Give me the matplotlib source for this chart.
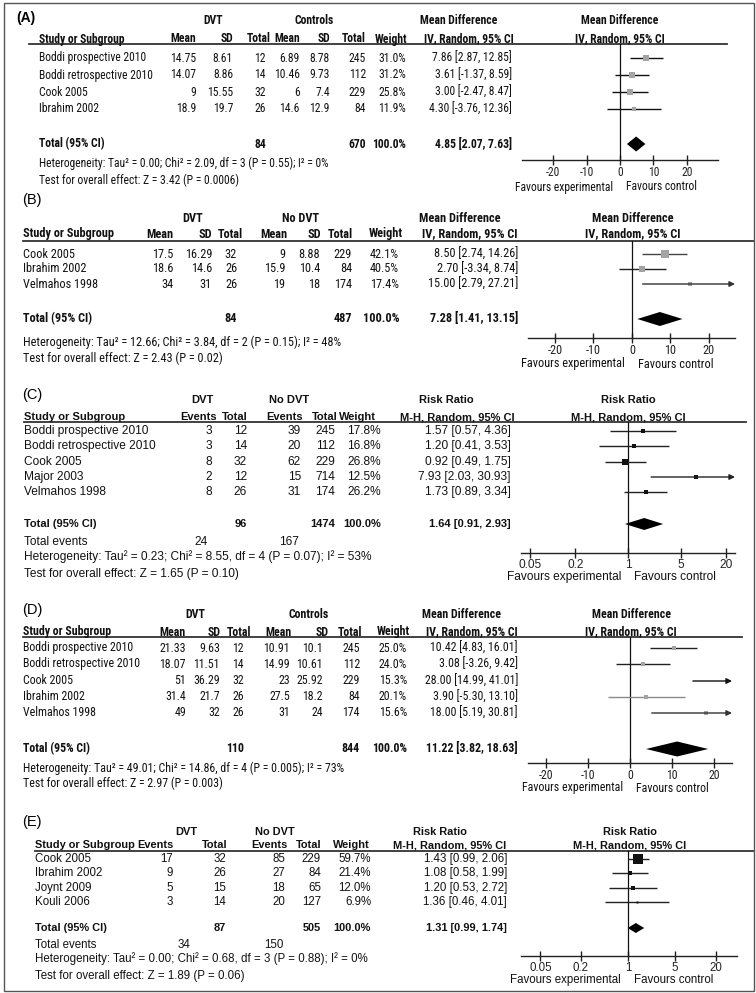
import numpy as np
import matplotlib.pyplot as plt
from matplotlib.patches import Rectangle
from matplotlib.ticker import NullLocator
from matplotlib.transforms import blended_transform_factory, offset_copy

# (A) DVT vs controls, mean difference
a_study = ['Boddi prospective 2010', 'Boddi retrospective 2010', 'Cook 2005', 'Ibrahim 2002']
a_dvt_mean = [14.75, 14.07, 9, 18.9]
a_dvt_sd = [8.61, 8.86, 15.55, 19.7]
a_dvt_n = [12, 14, 32, 26]
a_ctl_mean = [6.89, 10.46, 6, 14.6]
a_ctl_sd = [8.78, 9.73, 7.4, 12.9]
a_ctl_n = [245, 112, 229, 84]
a_weight = [31.0, 31.2, 25.8, 11.9]
a_est = [7.86, 3.61, 3.00, 4.30]
a_lo = [2.87, -1.37, -2.47, -3.76]
a_hi = [12.85, 8.59, 8.47, 12.36]
a_total_n = [84, 670]
a_total = [4.85, 2.07, 7.63]
a_het = 'Heterogeneity: Tau² = 0.00; Chi² = 2.09, df = 3 (P = 0.55); I² = 0%'
a_test = 'Test for overall effect: Z = 3.42 (P = 0.0006)'

# (B) DVT vs no DVT, mean difference
b_study = ['Cook 2005', 'Ibrahim 2002', 'Velmahos 1998']
b_dvt_mean = [17.5, 18.6, 34]
b_dvt_sd = [16.29, 14.6, 31]
b_dvt_n = [32, 26, 26]
b_ctl_mean = [9, 15.9, 19]
b_ctl_sd = [8.88, 10.4, 18]
b_ctl_n = [229, 84, 174]
b_weight = [42.1, 40.5, 17.4]
b_est = [8.50, 2.70, 15.00]
b_lo = [2.74, -3.34, 2.79]
b_hi = [14.26, 8.74, 27.21]
b_total_n = [84, 487]
b_total = [7.28, 1.41, 13.15]
b_het = 'Heterogeneity: Tau² = 12.66; Chi² = 3.84, df = 2 (P = 0.15); I² = 48%'
b_test = 'Test for overall effect: Z = 2.43 (P = 0.02)'

# (C) DVT vs no DVT, risk ratio
c_study = ['Boddi prospective 2010', 'Boddi retrospective 2010', 'Cook 2005', 'Major 2003', 'Velmahos 1998']
c_dvt_ev = [3, 3, 8, 2, 8]
c_dvt_n = [12, 14, 32, 12, 26]
c_ctl_ev = [39, 20, 62, 15, 31]
c_ctl_n = [245, 112, 229, 714, 174]
c_weight = [17.8, 16.8, 26.8, 12.5, 26.2]
c_est = [1.57, 1.20, 0.92, 7.93, 1.73]
c_lo = [0.57, 0.41, 0.49, 2.03, 0.89]
c_hi = [4.36, 3.53, 1.75, 30.93, 3.34]
c_total_n = [96, 1474]
c_total_ev = [24, 167]
c_total = [1.64, 0.91, 2.93]
c_het = 'Heterogeneity: Tau² = 0.23; Chi² = 8.55, df = 4 (P = 0.07); I² = 53%'
c_test = 'Test for overall effect: Z = 1.65 (P = 0.10)'

# (D) DVT vs controls, mean difference
d_study = ['Boddi prospective 2010', 'Boddi retrospective 2010', 'Cook 2005', 'Ibrahim 2002', 'Velmahos 1998']
d_dvt_mean = [21.33, 18.07, 51, 31.4, 49]
d_dvt_sd = [9.63, 11.51, 36.29, 21.7, 32]
d_dvt_n = [12, 14, 32, 26, 26]
d_ctl_mean = [10.91, 14.99, 23, 27.5, 31]
d_ctl_sd = [10.1, 10.61, 25.92, 18.2, 24]
d_ctl_n = [245, 112, 229, 84, 174]
d_weight = [25.0, 24.0, 15.3, 20.1, 15.6]
d_est = [10.42, 3.08, 28.00, 3.90, 18.00]
d_lo = [4.83, -3.26, 14.99, -5.30, 5.19]
d_hi = [16.01, 9.42, 41.01, 13.10, 30.81]
d_total_n = [110, 844]
d_total = [11.22, 3.82, 18.63]
d_het = 'Heterogeneity: Tau² = 49.01; Chi² = 14.86, df = 4 (P = 0.005); I² = 73%'
d_test = 'Test for overall effect: Z = 2.97 (P = 0.003)'

# (E) DVT vs no DVT, risk ratio
e_study = ['Cook 2005', 'Ibrahim 2002', 'Joynt 2009', 'Kouli 2006']
e_dvt_ev = [17, 9, 5, 3]
e_dvt_n = [32, 26, 15, 14]
e_ctl_ev = [85, 27, 18, 20]
e_ctl_n = [229, 84, 65, 127]
e_weight = [59.7, 21.4, 12.0, 6.9]
e_est = [1.43, 1.08, 1.20, 1.36]
e_lo = [0.99, 0.58, 0.53, 0.46]
e_hi = [2.06, 1.99, 2.72, 4.01]
e_total_n = [87, 505]
e_total_ev = [34, 150]
e_total = [1.31, 0.99, 1.74]
e_het = 'Heterogeneity: Tau² = 0.00; Chi² = 0.68, df = 3 (P = 0.88); I² = 0%'
e_test = 'Test for overall effect: Z = 1.89 (P = 0.06)'

md_ticks = [-20, -10, 0, 10, 20]
rr_ticks = [0.05, 0.2, 1, 5, 20]

ARIAL = ['Liberation Sans', 'DejaVu Sans']
NARROW = ['Roboto Condensed', 'Liberation Sans', 'DejaVu Sans']
GREY = '#a3a3a3'

W, H = 756, 993
fig = plt.figure(figsize=(W / 100, H / 100), dpi=100)
base = fig.add_axes([0, 0, 1, 1])
base.set_xlim(0, W)
base.set_ylim(H, 0)
base.axis('off')
base.add_patch(Rectangle((4, 3), 750, 988, fill=False, lw=1, ec='#555555'))


def g(v):
    return '{:g}'.format(v)


def ci(e, l, h):
    return '{:.2f} [{:.2f}, {:.2f}]'.format(e, l, h)


def md_cols(m1, s1, n1, m2, s2, n2, w):
    return [[g(v) for v in m1], [g(v) for v in s1], [str(v) for v in n1],
            [g(v) for v in m2], [g(v) for v in s2], [str(v) for v in n2],
            ['%.1f%%' % v for v in w]]


def rr_cols(e1, n1, e2, n2, w):
    return [[str(v) for v in e1], [str(v) for v in n1], [str(v) for v in e2],
            [str(v) for v in n2], ['%.1f%%' % v for v in w]]


def draw_panel(p):
    fs, fam = p['fs'], p['font']
    kw = dict(family=fam, fontsize=fs, va='center', color='#111111')
    hkw = dict(kw, fontsize=p.get('hfs', fs), fontweight='bold')
    lx, ly = p['label_xy']
    base.text(lx, ly, p['label'], family=ARIAL, fontsize=p['label_fs'], va='center',
              fontweight='bold' if p['label_bold'] else 'normal')
    for txt, x in p['h1']:
        base.text(x, p['h1y'], txt, ha='center', **hkw)
    base.text(p['study_x'], p['h2y'], 'Study or Subgroup', ha='left', **hkw)
    for txt, x in zip(p['h2'], p['hx']):
        base.text(x, p['h2y'], txt, ha='right', **hkw)
    base.text(p['ci_hx'], p['h2y'], p['ci_head'], ha='center', **hkw)
    base.plot(p['rule_x'], [p['rule_y']] * 2, color='#333333', lw=1.3)

    est, lo, hi, wt = p['est'], p['lo'], p['hi'], p['weight']
    for i, y in enumerate(p['rows']):
        base.text(p['study_x'], y, p['study'][i], ha='left', **kw)
        for col, x in zip(p['cols'], p['vx']):
            base.text(x, y, col[i], ha='right', **kw)
        base.text(p['ci_vx'], y, ci(est[i], lo[i], hi[i]), ha='right', **kw)

    ty = p['tot_y']
    base.text(p['study_x'], ty, 'Total (95% CI)', ha='left', **hkw)
    for v, x in zip(p['total_n'], p['tot_x']):
        base.text(x, ty, str(v), ha='right', **hkw)
    base.text(p['vx'][-1], ty, '100.0%', ha='right', **hkw)
    base.text(p['ci_vx'], ty, ci(*p['total']), ha='right', **hkw)
    if 'total_ev' in p:
        base.text(p['study_x'], p['ev_y'], 'Total events', ha='left', **kw)
        for v, x in zip(p['total_ev'], p['ev_x']):
            base.text(x, p['ev_y'], str(v), ha='right', **kw)
    base.text(p['study_x'], p['het_y'], p['het'], ha='left', **kw)
    base.text(p['study_x'], p['test_y'], p['test'], ha='left', **kw)

    # forest plot
    x0, x1 = p['fx']
    ay, ry = p['axis_y'], p['rule_y']
    ax = fig.add_axes([x0 / W, 1 - ay / H, (x1 - x0) / W, (ay - ry) / H])
    ax.patch.set_alpha(0)
    if p['log']:
        ax.set_xscale('log')
    xlim = p['xlim']
    ax.set_xlim(xlim)
    ax.set_ylim(ay, ry)
    for s in ['top', 'left', 'right']:
        ax.spines[s].set_visible(False)
    ax.spines['bottom'].set_linewidth(1.0)
    ax.spines['bottom'].set_color('#222222')
    ax.set_yticks([])
    ax.set_xticks(p['ticks'])
    ax.set_xticklabels([g(t) for t in p['ticks']], fontfamily=fam, fontsize=fs)
    ax.xaxis.set_minor_locator(NullLocator())
    ax.tick_params(axis='x', direction='inout', length=7, width=1, pad=0.5, colors='#222222')
    zero = 1 if p['log'] else 0
    ax.axvline(zero, color='#111111', lw=0.9)

    k, pw = p['size']
    for i, y in enumerate(p['rows']):
        lc = p['line_colors'][i]
        start = max(lo[i], xlim[0])
        if hi[i] > xlim[1]:
            ax.annotate('', xy=(xlim[1], y), xytext=(start, y),
                        arrowprops=dict(arrowstyle='-|>', color=lc, lw=1, mutation_scale=8,
                                        shrinkA=0, shrinkB=0), annotation_clip=False)
        else:
            ax.plot([start, hi[i]], [y, y], color=lc, lw=1, solid_capstyle='butt')
        if xlim[0] < est[i] < xlim[1]:
            side = k * wt[i] ** pw
            ax.plot(est[i], y, marker='s', ms=side * 0.72, color=p['sq'], mew=0)
    te, tl, th = p['total']
    hh = p['dia_h'] / 2
    ax.fill([tl, te, th, te], [ty, ty - hh, ty, ty + hh], color='black', lw=0)

    cx = p['fh_x']
    base.text(cx, p['h1y'], p['h1'][-1][0], ha='center', **hkw)
    base.text(cx, p['h2y'], p['ci_head'], ha='center', **hkw)
    tr = blended_transform_factory(ax.transData, base.transData)
    ax.text(zero, p['fav_y'], 'Favours experimental', ha='right',
            transform=offset_copy(tr, fig=fig, x=-7, y=0, units='dots'), **kw)
    ax.text(zero, p['fav_y'], 'Favours control', ha='left',
            transform=offset_copy(tr, fig=fig, x=6, y=0, units='dots'), **kw)


md_h2 = ['Mean', 'SD', 'Total', 'Mean', 'SD', 'Total', 'Weight']
rr_h2 = ['Events', 'Total', 'Events', 'Total', 'Weight']

panels = [
    dict(label='(A)', label_bold=True, label_fs=10, label_xy=(16, 18), font=NARROW, fs=8.4,
         h1=[('DVT', 213), ('Controls', 314), ('Mean Difference', 459)], h1y=21, h2y=39,
         study_x=39, h2=md_h2, hx=[196, 233, 271, 300, 330, 366, 407],
         vx=[196, 233, 266, 300, 330, 366, 406], tot_x=[266, 366],
         ci_head='IV, Random, 95% CI', ci_hx=469, ci_vx=512,
         rule_x=[29, 727], rule_y=44, rows=[58, 75, 92, 109], tot_y=144, het_y=163, test_y=180,
         study=a_study, cols=md_cols(a_dvt_mean, a_dvt_sd, a_dvt_n, a_ctl_mean, a_ctl_sd, a_ctl_n, a_weight),
         weight=a_weight, est=a_est, lo=a_lo, hi=a_hi, total_n=a_total_n, total=a_total,
         het=a_het, test=a_test,
         fx=(522, 718), xlim=(-29.4, 29.4), log=False, ticks=md_ticks, axis_y=160, fav_y=187,
         fh_x=620, dia_h=15, size=(1.08, 0.5), sq=GREY, line_colors=['#111111'] * 4),
    dict(label='(B)', label_bold=False, label_fs=10.5, label_xy=(22, 200), font=NARROW, fs=8.85,
         h1=[('DVT', 193), ('No DVT', 301), ('Mean Difference', 460)], h1y=218, h2y=234,
         study_x=23, h2=md_h2, hx=[173, 212, 243, 287, 321, 353, 403],
         vx=[173, 212, 237, 285, 320, 352, 399], tot_x=[237, 352],
         ci_head='IV, Random, 95% CI', ci_hx=470, ci_vx=518,
         rule_x=[23, 753], rule_y=241, rows=[254, 269, 284], tot_y=319, het_y=342, test_y=358,
         study=b_study, cols=md_cols(b_dvt_mean, b_dvt_sd, b_dvt_n, b_ctl_mean, b_ctl_sd, b_ctl_n, b_weight),
         weight=b_weight, est=b_est, lo=b_lo, hi=b_hi, total_n=b_total_n, total=b_total,
         het=b_het, test=b_test,
         fx=(528, 735), xlim=(-27, 26.8), log=False, ticks=md_ticks, axis_y=338, fav_y=364,
         fh_x=633, dia_h=14, size=(1.08, 0.5), sq=GREY, line_colors=['#444444', '#222222', '#333333']),
    dict(label='(C)', label_bold=False, label_fs=10.5, label_xy=(22, 395), font=ARIAL, fs=8.6, hfs=8.0,
         h1=[('DVT', 202), ('No DVT', 289), ('Risk Ratio', 446)], h1y=400, h2y=417,
         study_x=24, h2=rr_h2, hx=[217, 248, 303, 338, 376],
         vx=[212, 247, 301, 335, 381], tot_x=[247, 335], total_ev=c_total_ev, ev_x=[208, 299], ev_y=542,
         ci_head='M-H, Random, 95% CI', ci_hx=457, ci_vx=511,
         rule_x=[24, 746], rule_y=422, rows=[431, 446, 462, 477, 492], tot_y=524, het_y=557, test_y=574,
         study=c_study, cols=rr_cols(c_dvt_ev, c_dvt_n, c_ctl_ev, c_ctl_n, c_weight),
         weight=c_weight, est=c_est, lo=c_lo, hi=c_hi, total_n=c_total_n, total=c_total,
         het=c_het, test=c_test,
         fx=(521, 735), xlim=(10 ** -1.42, 10 ** 1.42), log=True, ticks=rr_ticks, axis_y=553, fav_y=577,
         fh_x=628, dia_h=12, size=(0.97, 0.5), sq='#111111', line_colors=['#222222'] * 5),
    dict(label='(D)', label_bold=False, label_fs=10.5, label_xy=(22, 610), font=NARROW, fs=8.6,
         h1=[('DVT', 195), ('Controls', 309), ('Mean Difference', 462)], h1y=615, h2y=632,
         study_x=23, h2=md_h2, hx=[186, 221, 251, 292, 329, 362, 410],
         vx=[186, 220, 244, 290, 323, 360, 407], tot_x=[244, 360],
         ci_head='IV, Random, 95% CI', ci_hx=472, ci_vx=518,
         rule_x=[23, 742], rule_y=637, rows=[648, 664, 681, 697, 713], tot_y=749, het_y=768, test_y=783,
         study=d_study, cols=md_cols(d_dvt_mean, d_dvt_sd, d_dvt_n, d_ctl_mean, d_ctl_sd, d_ctl_n, d_weight),
         weight=d_weight, est=d_est, lo=d_lo, hi=d_hi, total_n=d_total_n, total=d_total,
         het=d_het, test=d_test,
         fx=(528, 732), xlim=(-24.3, 24.3), log=False, ticks=md_ticks, axis_y=763, fav_y=788,
         fh_x=631, dia_h=15, size=(1.0, 0.5), sq=GREY,
         line_colors=['#222222', '#222222', '#111111', '#8a8a8a', '#333333']),
    dict(label='(E)', label_bold=False, label_fs=10.5, label_xy=(22, 822), font=ARIAL, fs=8.3, hfs=7.9,
         h1=[('DVT', 186), ('No DVT', 275), ('Risk Ratio', 440)], h1y=832, h2y=845,
         study_x=35, h2=rr_h2, hx=[174, 227, 288, 321, 370],
         vx=[173, 226, 285, 321, 371], tot_x=[226, 321], total_ev=e_total_ev, ev_x=[190, 284], ev_y=945,
         ci_head='M-H, Random, 95% CI', ci_hx=450, ci_vx=507,
         rule_x=[35, 753], rule_y=851, rows=[859, 873, 888, 902], tot_y=928, het_y=959, test_y=976,
         study=e_study, cols=rr_cols(e_dvt_ev, e_dvt_n, e_ctl_ev, e_ctl_n, e_weight),
         weight=e_weight, est=e_est, lo=e_lo, hi=e_hi, total_n=e_total_n, total=e_total,
         het=e_het, test=e_test,
         fx=(521, 737), xlim=(10 ** -1.59, 10 ** 1.62), log=True, ticks=rr_ticks, axis_y=956, fav_y=980,
         fh_x=630, dia_h=10, size=(0.417, 0.8), sq='#111111', line_colors=['#222222'] * 4),
]

for p in panels:
    draw_panel(p)

fig.savefig('out.png', dpi=100)
